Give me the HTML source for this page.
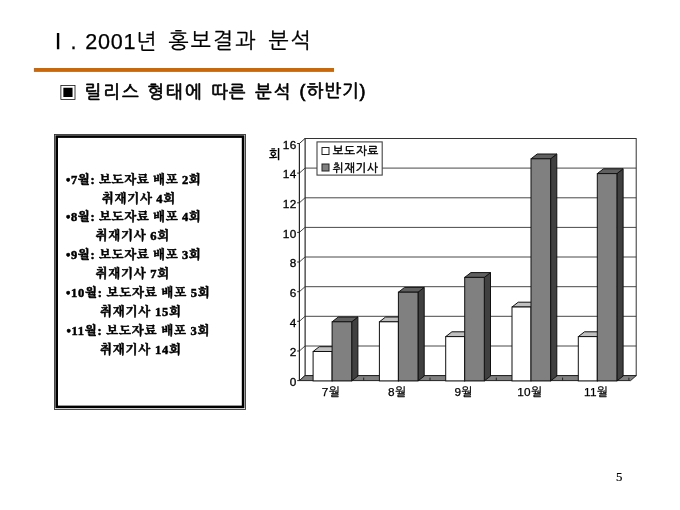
<!DOCTYPE html>
<html lang="ko"><head><meta charset="utf-8"><title>2001년 홍보결과 분석</title>
<style>
html,body{margin:0;padding:0;background:#fff;}
body{width:680px;height:510px;position:relative;overflow:hidden;color:#000;}
.t{position:absolute;white-space:pre;line-height:1;}
</style></head><body>
<svg width="680" height="510" viewBox="0 0 680 510" style="position:absolute;left:0;top:0">
<rect x="305.0" y="138.5" width="331.2" height="237.1" fill="#fff" stroke="#333" stroke-width="1"/>
<polygon points="299.4,143.5 305.0,138.5 305.0,375.6 299.4,380.6" fill="#fff" stroke="#333" stroke-width="1"/>
<path d="M299.4,351.0 L305.0,346.0 H636.2" fill="none" stroke="#333" stroke-width="0.9"/>
<path d="M299.4,321.3 L305.0,316.3 H636.2" fill="none" stroke="#333" stroke-width="0.9"/>
<path d="M299.4,291.7 L305.0,286.7 H636.2" fill="none" stroke="#333" stroke-width="0.9"/>
<path d="M299.4,262.0 L305.0,257.0 H636.2" fill="none" stroke="#333" stroke-width="0.9"/>
<path d="M299.4,232.4 L305.0,227.4 H636.2" fill="none" stroke="#333" stroke-width="0.9"/>
<path d="M299.4,202.8 L305.0,197.8 H636.2" fill="none" stroke="#333" stroke-width="0.9"/>
<path d="M299.4,173.1 L305.0,168.1 H636.2" fill="none" stroke="#333" stroke-width="0.9"/>
<path d="M297.2,380.6 H299.4" stroke="#222" stroke-width="1"/>
<path d="M297.2,351.0 H299.4" stroke="#222" stroke-width="1"/>
<path d="M297.2,321.3 H299.4" stroke="#222" stroke-width="1"/>
<path d="M297.2,291.7 H299.4" stroke="#222" stroke-width="1"/>
<path d="M297.2,262.0 H299.4" stroke="#222" stroke-width="1"/>
<path d="M297.2,232.4 H299.4" stroke="#222" stroke-width="1"/>
<path d="M297.2,202.8 H299.4" stroke="#222" stroke-width="1"/>
<path d="M297.2,173.1 H299.4" stroke="#222" stroke-width="1"/>
<path d="M297.2,143.5 H299.4" stroke="#222" stroke-width="1"/>
<polygon points="299.4,380.6 305.0,375.6 636.2,375.6 630.6,380.6" fill="#808080" stroke="#222" stroke-width="1"/>
<path d="M363.7,380.6 V377.6" stroke="#222" stroke-width="1"/>
<path d="M430.0,380.6 V377.6" stroke="#222" stroke-width="1"/>
<path d="M496.3,380.6 V377.6" stroke="#222" stroke-width="1"/>
<path d="M562.6,380.6 V377.6" stroke="#222" stroke-width="1"/>
<path d="M628.9,380.6 V377.6" stroke="#222" stroke-width="1"/>
<polygon points="332.1,351.5 338.3,346.7 338.3,376.1 332.1,380.9" fill="#808080" stroke="#111" stroke-width="1" stroke-linejoin="round"/>
<polygon points="313.1,351.5 319.3,346.7 338.3,346.7 332.1,351.5" fill="#c0c0c0" stroke="#111" stroke-width="1" stroke-linejoin="round"/>
<rect x="313.1" y="351.5" width="19.0" height="29.4" fill="#fff" stroke="#111" stroke-width="1"/>
<polygon points="351.7,321.8 357.9,317.0 357.9,376.1 351.7,380.9" fill="#404040" stroke="#111" stroke-width="1" stroke-linejoin="round"/>
<polygon points="332.1,321.8 338.3,317.0 357.9,317.0 351.7,321.8" fill="#606060" stroke="#111" stroke-width="1" stroke-linejoin="round"/>
<rect x="332.1" y="321.8" width="19.6" height="59.1" fill="#808080" stroke="#111" stroke-width="1"/>
<polygon points="398.4,321.8 404.6,317.0 404.6,376.1 398.4,380.9" fill="#808080" stroke="#111" stroke-width="1" stroke-linejoin="round"/>
<polygon points="379.4,321.8 385.6,317.0 404.6,317.0 398.4,321.8" fill="#c0c0c0" stroke="#111" stroke-width="1" stroke-linejoin="round"/>
<rect x="379.4" y="321.8" width="19.0" height="59.1" fill="#fff" stroke="#111" stroke-width="1"/>
<polygon points="418.0,292.2 424.2,287.4 424.2,376.1 418.0,380.9" fill="#404040" stroke="#111" stroke-width="1" stroke-linejoin="round"/>
<polygon points="398.4,292.2 404.6,287.4 424.2,287.4 418.0,292.2" fill="#606060" stroke="#111" stroke-width="1" stroke-linejoin="round"/>
<rect x="398.4" y="292.2" width="19.6" height="88.7" fill="#808080" stroke="#111" stroke-width="1"/>
<polygon points="464.7,336.6 470.9,331.8 470.9,376.1 464.7,380.9" fill="#808080" stroke="#111" stroke-width="1" stroke-linejoin="round"/>
<polygon points="445.7,336.6 451.9,331.8 470.9,331.8 464.7,336.6" fill="#c0c0c0" stroke="#111" stroke-width="1" stroke-linejoin="round"/>
<rect x="445.7" y="336.6" width="19.0" height="44.3" fill="#fff" stroke="#111" stroke-width="1"/>
<polygon points="484.3,277.4 490.5,272.6 490.5,376.1 484.3,380.9" fill="#404040" stroke="#111" stroke-width="1" stroke-linejoin="round"/>
<polygon points="464.7,277.4 470.9,272.6 490.5,272.6 484.3,277.4" fill="#606060" stroke="#111" stroke-width="1" stroke-linejoin="round"/>
<rect x="464.7" y="277.4" width="19.6" height="103.5" fill="#808080" stroke="#111" stroke-width="1"/>
<polygon points="531.0,307.0 537.2,302.2 537.2,376.1 531.0,380.9" fill="#808080" stroke="#111" stroke-width="1" stroke-linejoin="round"/>
<polygon points="512.0,307.0 518.2,302.2 537.2,302.2 531.0,307.0" fill="#c0c0c0" stroke="#111" stroke-width="1" stroke-linejoin="round"/>
<rect x="512.0" y="307.0" width="19.0" height="73.9" fill="#fff" stroke="#111" stroke-width="1"/>
<polygon points="550.6,158.8 556.8,154.0 556.8,376.1 550.6,380.9" fill="#404040" stroke="#111" stroke-width="1" stroke-linejoin="round"/>
<polygon points="531.0,158.8 537.2,154.0 556.8,154.0 550.6,158.8" fill="#606060" stroke="#111" stroke-width="1" stroke-linejoin="round"/>
<rect x="531.0" y="158.8" width="19.6" height="222.1" fill="#808080" stroke="#111" stroke-width="1"/>
<polygon points="597.3,336.6 603.5,331.8 603.5,376.1 597.3,380.9" fill="#808080" stroke="#111" stroke-width="1" stroke-linejoin="round"/>
<polygon points="578.3,336.6 584.5,331.8 603.5,331.8 597.3,336.6" fill="#c0c0c0" stroke="#111" stroke-width="1" stroke-linejoin="round"/>
<rect x="578.3" y="336.6" width="19.0" height="44.3" fill="#fff" stroke="#111" stroke-width="1"/>
<polygon points="616.9,173.6 623.1,168.8 623.1,376.1 616.9,380.9" fill="#404040" stroke="#111" stroke-width="1" stroke-linejoin="round"/>
<polygon points="597.3,173.6 603.5,168.8 623.1,168.8 616.9,173.6" fill="#606060" stroke="#111" stroke-width="1" stroke-linejoin="round"/>
<rect x="597.3" y="173.6" width="19.6" height="207.3" fill="#808080" stroke="#111" stroke-width="1"/>
<path d="M299.4,143.5 V380.6" stroke="#222" stroke-width="1"/>
<rect x="317" y="141.9" width="65.2" height="33.2" fill="#fff" stroke="#444" stroke-width="1.1"/>
<rect x="322" y="147.5" width="7" height="7" fill="#fff" stroke="#222" stroke-width="1"/>
<rect x="322" y="164" width="7" height="7" fill="#808080" stroke="#222" stroke-width="1"/>
<text x="332.7" y="155.2" font-size="11.6" letter-spacing="0.7" font-family="Liberation Sans, NanumGothic, sans-serif" fill="#000" stroke="#000" stroke-width="0.45">보도자료</text>
<text x="332.3" y="172.1" font-size="11.6" letter-spacing="0.7" font-family="Liberation Sans, NanumGothic, sans-serif" fill="#000" stroke="#000" stroke-width="0.45">취재기사</text>
<text x="296.6" y="385.9" font-size="11.8" letter-spacing="0.3" font-family="Liberation Sans, NanumGothic, sans-serif" text-anchor="end" fill="#000" stroke="#000" stroke-width="0.3">0</text>
<text x="296.6" y="356.3" font-size="11.8" letter-spacing="0.3" font-family="Liberation Sans, NanumGothic, sans-serif" text-anchor="end" fill="#000" stroke="#000" stroke-width="0.3">2</text>
<text x="296.6" y="326.6" font-size="11.8" letter-spacing="0.3" font-family="Liberation Sans, NanumGothic, sans-serif" text-anchor="end" fill="#000" stroke="#000" stroke-width="0.3">4</text>
<text x="296.6" y="297.0" font-size="11.8" letter-spacing="0.3" font-family="Liberation Sans, NanumGothic, sans-serif" text-anchor="end" fill="#000" stroke="#000" stroke-width="0.3">6</text>
<text x="296.6" y="267.3" font-size="11.8" letter-spacing="0.3" font-family="Liberation Sans, NanumGothic, sans-serif" text-anchor="end" fill="#000" stroke="#000" stroke-width="0.3">8</text>
<text x="296.6" y="237.7" font-size="11.8" letter-spacing="0.3" font-family="Liberation Sans, NanumGothic, sans-serif" text-anchor="end" fill="#000" stroke="#000" stroke-width="0.3">10</text>
<text x="296.6" y="208.1" font-size="11.8" letter-spacing="0.3" font-family="Liberation Sans, NanumGothic, sans-serif" text-anchor="end" fill="#000" stroke="#000" stroke-width="0.3">12</text>
<text x="296.6" y="178.4" font-size="11.8" letter-spacing="0.3" font-family="Liberation Sans, NanumGothic, sans-serif" text-anchor="end" fill="#000" stroke="#000" stroke-width="0.3">14</text>
<text x="296.6" y="148.8" font-size="11.8" letter-spacing="0.3" font-family="Liberation Sans, NanumGothic, sans-serif" text-anchor="end" fill="#000" stroke="#000" stroke-width="0.3">16</text>
<text x="268.8" y="159" font-size="12.8" font-family="Liberation Sans, NanumGothic, sans-serif" font-weight="bold" fill="#000">회</text>
<text x="330.9" y="395.6" font-size="11.8" letter-spacing="0.3" font-family="Liberation Sans, NanumGothic, sans-serif" text-anchor="middle" fill="#000" stroke="#000" stroke-width="0.25">7월</text>
<text x="397.2" y="395.6" font-size="11.8" letter-spacing="0.3" font-family="Liberation Sans, NanumGothic, sans-serif" text-anchor="middle" fill="#000" stroke="#000" stroke-width="0.25">8월</text>
<text x="463.5" y="395.6" font-size="11.8" letter-spacing="0.3" font-family="Liberation Sans, NanumGothic, sans-serif" text-anchor="middle" fill="#000" stroke="#000" stroke-width="0.25">9월</text>
<text x="529.8" y="395.6" font-size="11.8" letter-spacing="0.3" font-family="Liberation Sans, NanumGothic, sans-serif" text-anchor="middle" fill="#000" stroke="#000" stroke-width="0.25">10월</text>
<text x="596.1" y="395.6" font-size="11.8" letter-spacing="0.3" font-family="Liberation Sans, NanumGothic, sans-serif" text-anchor="middle" fill="#000" stroke="#000" stroke-width="0.25">11월</text>
<rect x="54.5" y="134.5" width="191" height="275" fill="none" stroke="#333" stroke-width="0.9"/>
<rect x="56.7" y="136.6" width="186.4" height="270.3" fill="none" stroke="#000" stroke-width="2.6"/>
<rect x="33.9" y="68" width="300.1" height="3.9" fill="#c8680e"/>
</svg>
<div class="t" style="left:47.2px;top:31.0px;letter-spacing:0px;font-family:'Liberation Sans','NanumGothic','Noto Sans CJK KR',sans-serif;font-size:21.6px;-webkit-text-stroke:0.25px #000;">Ⅰ</div>
<div class="t" style="left:70.5px;top:31.4px;letter-spacing:0px;font-family:'Liberation Sans','NanumGothic','Noto Sans CJK KR',sans-serif;font-size:21.6px;-webkit-text-stroke:0.25px #000;">.</div>
<div class="t" style="left:85.2px;top:31.2px;letter-spacing:0.78px;font-family:'Liberation Sans','NanumGothic','Noto Sans CJK KR',sans-serif;font-size:21.6px;-webkit-text-stroke:0.25px #000;">2001년</div>
<div class="t" style="left:168.2px;top:30.4px;letter-spacing:2.03px;font-family:'Liberation Sans','NanumGothic','Noto Sans CJK KR',sans-serif;font-size:21.6px;-webkit-text-stroke:0.25px #000;">홍보결과</div>
<div class="t" style="left:268.2px;top:30.4px;letter-spacing:2.0px;font-family:'Liberation Sans','NanumGothic','Noto Sans CJK KR',sans-serif;font-size:21.6px;-webkit-text-stroke:0.25px #000;">분석</div>
<div class="t" style="left:58.6px;top:82.0px;letter-spacing:0px;font-family:'Liberation Sans','NanumGothic','Noto Sans CJK KR',sans-serif;font-size:20px;">▣</div>
<div class="t" style="left:84.6px;top:83.8px;letter-spacing:1.95px;font-family:'Liberation Sans','NanumGothic','Noto Sans CJK KR',sans-serif;font-size:17.8px;-webkit-text-stroke:0.7px #000;">릴리스</div>
<div class="t" style="left:147.2px;top:83.8px;letter-spacing:2.15px;font-family:'Liberation Sans','NanumGothic','Noto Sans CJK KR',sans-serif;font-size:17.8px;-webkit-text-stroke:0.7px #000;">형태에</div>
<div class="t" style="left:211.1px;top:83.8px;letter-spacing:1.0px;font-family:'Liberation Sans','NanumGothic','Noto Sans CJK KR',sans-serif;font-size:17.8px;-webkit-text-stroke:0.7px #000;">따른</div>
<div class="t" style="left:255.0px;top:83.8px;letter-spacing:2.1px;font-family:'Liberation Sans','NanumGothic','Noto Sans CJK KR',sans-serif;font-size:17.8px;-webkit-text-stroke:0.7px #000;">분석</div>
<div class="t" style="left:299.6px;top:83.2px;letter-spacing:0.98px;font-family:'Liberation Sans','NanumGothic','Noto Sans CJK KR',sans-serif;font-size:17.8px;-webkit-text-stroke:0.7px #000;">(하반기)</div>
<div class="t" style="left:66.1px;top:173.6px;letter-spacing:0.56px;font-family:'Liberation Serif','Noto Serif CJK SC',serif;font-weight:bold;font-size:12.5px;-webkit-text-stroke:0.5px #000;">•7월: 보도자료 배포 2회</div>
<div class="t" style="left:101.8px;top:192.5px;letter-spacing:0.63px;font-family:'Liberation Serif','Noto Serif CJK SC',serif;font-weight:bold;font-size:12.5px;-webkit-text-stroke:0.5px #000;">취재기사 4회</div>
<div class="t" style="left:66.1px;top:211.4px;letter-spacing:0.56px;font-family:'Liberation Serif','Noto Serif CJK SC',serif;font-weight:bold;font-size:12.5px;-webkit-text-stroke:0.5px #000;">•8월: 보도자료 배포 4회</div>
<div class="t" style="left:95.4px;top:230.3px;letter-spacing:0.7px;font-family:'Liberation Serif','Noto Serif CJK SC',serif;font-weight:bold;font-size:12.5px;-webkit-text-stroke:0.5px #000;">취재기사 6회</div>
<div class="t" style="left:66.1px;top:249.2px;letter-spacing:0.56px;font-family:'Liberation Serif','Noto Serif CJK SC',serif;font-weight:bold;font-size:12.5px;-webkit-text-stroke:0.5px #000;">•9월: 보도자료 배포 3회</div>
<div class="t" style="left:95.4px;top:268.1px;letter-spacing:0.7px;font-family:'Liberation Serif','Noto Serif CJK SC',serif;font-weight:bold;font-size:12.5px;-webkit-text-stroke:0.5px #000;">취재기사 7회</div>
<div class="t" style="left:66.0px;top:287.0px;letter-spacing:0.7px;font-family:'Liberation Serif','Noto Serif CJK SC',serif;font-weight:bold;font-size:12.5px;-webkit-text-stroke:0.5px #000;">•10월: 보도자료 배포 5회</div>
<div class="t" style="left:100.0px;top:305.9px;letter-spacing:0.71px;font-family:'Liberation Serif','Noto Serif CJK SC',serif;font-weight:bold;font-size:12.5px;-webkit-text-stroke:0.5px #000;">취재기사 15회</div>
<div class="t" style="left:66.5px;top:324.8px;letter-spacing:0.7px;font-family:'Liberation Serif','Noto Serif CJK SC',serif;font-weight:bold;font-size:12.5px;-webkit-text-stroke:0.5px #000;">•11월: 보도자료 배포 3회</div>
<div class="t" style="left:100.0px;top:343.7px;letter-spacing:0.71px;font-family:'Liberation Serif','Noto Serif CJK SC',serif;font-weight:bold;font-size:12.5px;-webkit-text-stroke:0.5px #000;">취재기사 14회</div>
<div class="t" style="left:615.9px;top:470.7px;letter-spacing:0px;font-family:'Liberation Serif',serif;font-size:12.8px;-webkit-text-stroke:0.2px #000;">5</div>
</body></html>
